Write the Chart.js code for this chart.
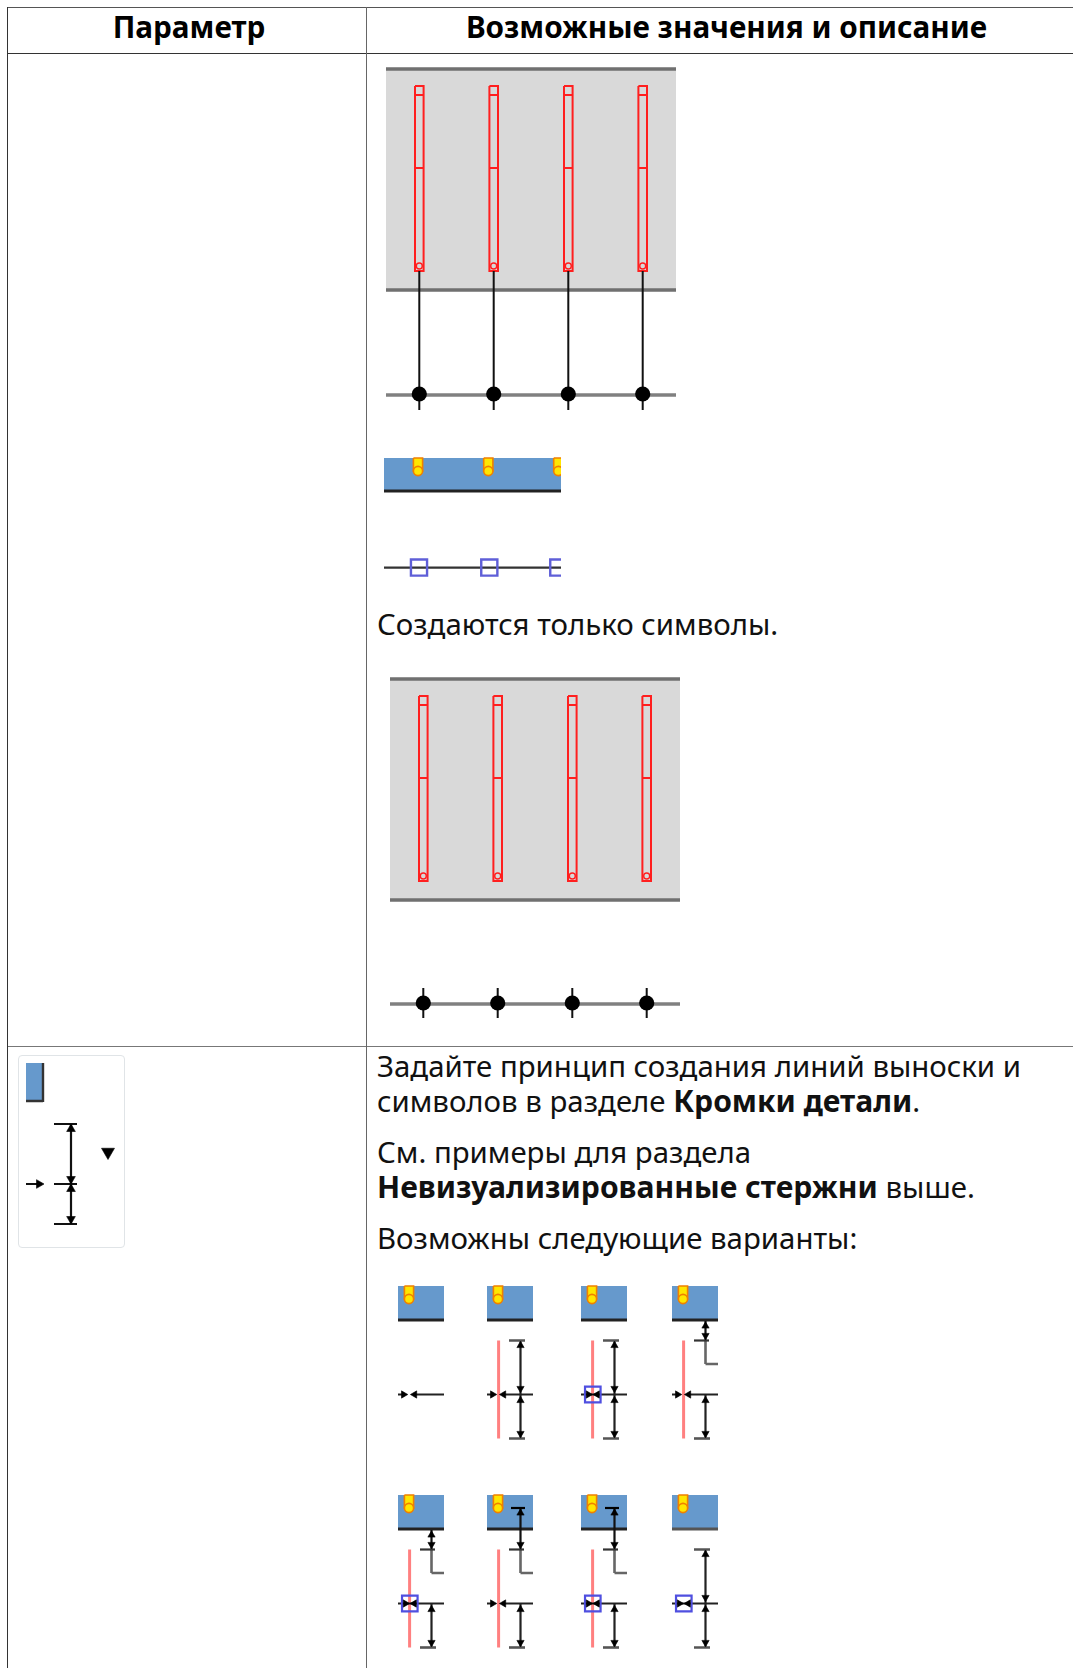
<!DOCTYPE html>
<html lang="ru">
<head>
<meta charset="utf-8">
<title>Параметр</title>
<script src="https://cdn.jsdelivr.net/npm/chart.js@4"></script>
<style>
  html, body { margin: 0; padding: 0; background: #fff; }
  body { position: relative; width: 1073px; height: 1668px; overflow: hidden; font-family: "Noto Sans", sans-serif; color: #111; }
  .rule { position: absolute; background: #333; }
  .txt { position: absolute; font-size: 29.4px; line-height: 34px; white-space: nowrap; }
  .txt b { font-size: 30.1px; line-height: 34px; }
  .head { position: absolute; top: 9px; font-size: 29.7px; line-height: 36px; font-weight: 700; text-align: center; white-space: nowrap; color: #000; }
  canvas { position: absolute; filter: blur(0.65px); }
  #iconFrame { position: absolute; left: 18px; top: 1055px; width: 105px; height: 191px; border: 1.5px solid #e0e4e7; border-radius: 4px; }
</style>
</head>
<body>
<div class="rule" style="left:7px;top:7px;width:1066px;height:1px;background:#555"></div>
<div class="rule" style="left:7px;top:53px;width:1066px;height:1px"></div>
<div class="rule" style="left:7px;top:1046px;width:1066px;height:1px;background:#777"></div>
<div class="rule" style="left:7px;top:7px;width:1px;height:1661px"></div>
<div class="rule" style="left:366px;top:7px;width:1px;height:1661px;background:#666"></div>

<div class="head" style="left:10px;width:358px">Параметр</div>
<div class="head" style="left:367px;width:719px">Возможные значения и описание</div>

<div class="txt" style="left:377px;top:607px">Создаются только символы.</div>
<div class="txt" style="left:377px;top:1049px">Задайте принцип создания линий выноски и</div>
<div class="txt" style="left:377px;top:1084px">символов в разделе <b>Кромки детали</b>.</div>
<div class="txt" style="left:377px;top:1135px">См. примеры для раздела</div>
<div class="txt" style="left:377px;top:1170px"><b>Невизуализированные стержни</b> выше.</div>
<div class="txt" style="left:377px;top:1221px">Возможны следующие варианты:</div>
<div id="iconFrame"></div>

<script>
// план: панель и стержни
const planBarX = [33.3, 107.7, 182.3, 256.7];
const planWidth = 290;
const planBottom = 221;
const barEnds = [17, 202];
const barMid = 99;
const axisY = [326, 325];
const leaderEnd = 341;
const crossTick = [309, 339];

// полоса с кромкой
const stripBarX = [34, 104.3, 174.3];
const stripBoxX = [35, 105.3, 174.3];
const stripWidth = 177;
const stripHeight = 33;
const stripLineY = 109.6;

// варианты выноски
const variantLeft = [398.3, 486.7, 581, 671.7, 398.3, 486.7, 581, 671.7];
const variantTop = [1285.7, 1285.7, 1285.7, 1285.7, 1494.5, 1494.5, 1494.5, 1494.5];
const variantKind = ["none", "full", "full", "leader", "leader", "inside", "inside", "full"];
const variantRed = [false, true, true, true, true, true, true, false];
const variantBox = [false, false, true, false, true, false, true, true];

const RED = "#ff1f1f", BLUE = "#6699cc", DARK = "#222", NONE = "rgba(0,0,0,0)";

function Drawing() {
  this.sets = [];
  this.rect = function (x0, x1, y0, y1, fill, border, bw) {
    this.sets.push({
      data: [{x: x0, y: y0}, {x: x1, y: y0}, {x: x1, y: y1}, {x: x0, y: y1}, {x: x0, y: y0}],
      showLine: true, fill: "shape", backgroundColor: fill,
      borderColor: border || fill, borderWidth: bw === undefined ? 0 : bw,
      pointRadius: 0, clip: false
    });
  };
  // segs: [x1, y1, x2, y2] ...
  this.lines = function (segs, color, w) {
    const pts = [];
    segs.forEach(s => pts.push({x: s[0], y: s[1]}, {x: s[2], y: s[3]}, {x: NaN, y: NaN}));
    this.sets.push({data: pts, showLine: true, borderColor: color, borderWidth: w, pointRadius: 0, clip: false});
  };
  this.points = function (pts, style, r, fill, border, bw, rot) {
    this.sets.push({
      data: pts.map(p => ({x: p[0], y: p[1]})), showLine: false,
      pointStyle: style, pointRadius: r, pointBackgroundColor: fill,
      pointBorderColor: border, pointBorderWidth: bw, pointRotation: rot || 0, clip: false
    });
  };
  this.tri = function (pts, rot, r) {
    this.points(pts, "triangle", r || 4.2, "#000", "#000", 0.6, rot);
  };
}

function place(d, left, top, xMin, xMax, yMin, yMax) {
  const c = document.createElement("canvas");
  c.style.left = (left + xMin) + "px";
  c.style.top = (top + yMin) + "px";
  c.width = Math.round(xMax - xMin);
  c.height = Math.round(yMax - yMin);
  document.body.appendChild(c);
  // chart.js рисует первый набор поверх, поэтому переворачиваем
  new Chart(c.getContext("2d"), {
    type: "scatter",
    data: {datasets: d.sets.reverse()},
    options: {
      responsive: false,
      animation: false,
      events: [],
      layout: {padding: 0, autoPadding: false},
      plugins: {legend: {display: false}, tooltip: {enabled: false}},
      scales: {
        x: {type: "linear", display: false, min: xMin, max: xMax},
        y: {type: "linear", display: false, min: yMin, max: yMax, reverse: true}
      }
    }
  });
}

function plan(left, top, withLeaders) {
  const d = new Drawing();
  const axis = withLeaders ? axisY[0] : axisY[1];
  d.rect(0, planWidth, 0, planBottom, "#d9d9d9");
  d.lines([[0, 0, planWidth, 0], [0, planBottom, planWidth, planBottom]], "#707070", 3.4);
  planBarX.forEach(x => {
    d.rect(x - 4.3, x + 4.3, barEnds[0], barEnds[1], NONE, RED, 2);
    d.lines([[x - 4.3, barMid, x + 4.3, barMid], [x - 4.3, 26, x + 4.3, 26]], RED, 1.8);
  });
  d.points(planBarX.map(x => [x, 197]), "circle", 3, NONE, RED, 1.4);
  d.lines([[0, axis, planWidth, axis]], "#808080", 3.4);
  if (withLeaders) {
    d.lines(planBarX.map(x => [x, barEnds[1], x, leaderEnd]), "#111", 2);
  } else {
    d.lines(planBarX.map(x => [x, crossTick[0], x, crossTick[1]]), "#111", 2);
  }
  d.points(planBarX.map(x => [x, axis - 1]), "circle", 7.6, "#000", "#000", 0);
  place(d, left, top, -2, planWidth + 2, -3, leaderEnd + 3);
}

function yellowBar(d, x, tip) {
  d.rect(x - 4.6, x + 4.6, 0, tip - 4, "#ffe600", "#f08000", 1.6);
  d.points([[x, tip - 4]], "circle", 4.6, "#ffe600", "#f08000", 1.6);
}

function strip(left, top) {
  const d = new Drawing();
  d.rect(0, stripWidth, 0, stripHeight, BLUE);
  stripBarX.forEach(x => yellowBar(d, x, 17));
  d.lines([[0, stripHeight, stripWidth, stripHeight]], DARK, 2.8);
  d.lines([[0, stripLineY, stripWidth, stripLineY]], "#333", 2.2);
  d.points(stripBoxX.map(x => [x, stripLineY]), "rect", 11.4, NONE, "#5f5fd8", 2.4);
  place(d, left, top, 0, stripWidth, -1, 122);
}

function variant(i) {
  const kind = variantKind[i];
  const d = new Drawing();
  const mid = 108.5, low = 152.5, high = 54.5;
  d.rect(0, 46, 0, 34, BLUE);
  yellowBar(d, 11, 17);
  d.lines([[0, 34, 46, 34]], i === 7 ? "#555" : DARK, 2.8);
  if (variantRed[i]) d.lines([[11.6, high, 11.6, low]], "#ff8080", 3);

  if (variantBox[i]) {
    d.lines([[0, mid, 46, mid]], "#222", 2);
    d.points([[11.8, mid]], "rect", 11, NONE, "#4f4fe0", 2.2);
    d.tri([[7.4, mid]], 90);
    d.tri([[16.2, mid]], 270);
  } else {
    d.lines([[0, mid, 6, mid], [16, mid, 46, mid]], "#222", 2);
    d.tri([[5.6, mid]], 90);
    d.tri([[16.6, mid]], 270);
  }

  const x = 33.5;
  if (kind === "full") {
    d.lines([[x, high, x, low]], "#222", 2.2);
    d.lines([[22, high, 38, high], [22, low, 38, low]], "#555", 2.6);
    d.tri([[x, high + 5], [x, mid + 6]], 0);
    d.tri([[x, mid - 6], [x, low - 5]], 180);
  }
  if (kind === "leader" || kind === "inside") {
    const start = kind === "inside" ? 13 : 35;
    d.lines([[x, start, x, high]], "#111", 2.2);
    d.lines([[x, high, x, 78], [x, 78, 46, 78]], "#666", 2.6);
    d.lines([[22, high, 37, high]], "#333", 2.2);
    if (kind === "inside") d.lines([[24, start, 38, start]], "#000", 2.2);
    d.tri([[x, start + 5]], 0);
    d.tri([[x, high - 5]], 180);
    d.lines([[x, mid, x, low]], "#222", 2.2);
    d.lines([[22, low, 38, low]], "#555", 2.6);
    d.tri([[x, mid + 6]], 0);
    d.tri([[x, low - 5]], 180);
  }
  place(d, variantLeft[i], variantTop[i], -4, 50, -2, 160);
}

function icon() {
  const d = new Drawing();
  d.rect(8, 25, 7, 45, BLUE);
  d.lines([[25, 7, 25, 46], [8, 45, 25, 45]], "#333", 2.4);
  d.lines([[53, 68, 53, 168]], "#111", 2.2);
  d.lines([[36, 68, 59, 68], [36, 128, 59, 128], [36, 168, 59, 168], [8, 128, 22, 128]], "#111", 2.2);
  d.tri([[53, 73], [53, 133]], 0, 5);
  d.tri([[53, 123], [53, 163]], 180, 5);
  d.tri([[21, 128]], 90, 5);
  d.tri([[90, 96]], 180, 7.5);
  place(d, 18, 1056, 0, 106, 0, 191);
}

plan(386, 69.3, true);
strip(384, 457.7);
plan(390, 678.7, false);
icon();
variantLeft.forEach((_, i) => variant(i));
</script>
</body>
</html>
